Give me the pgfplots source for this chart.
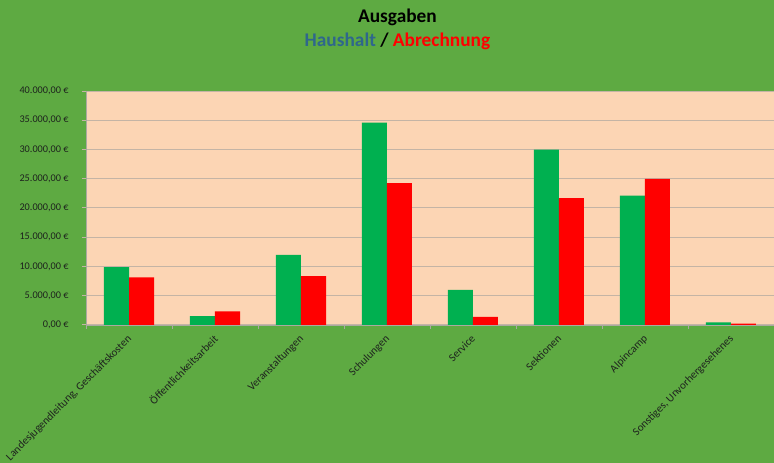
\documentclass[border=0pt]{standalone}
\usepackage{fontspec}
\setmainfont{Carlito}
\usepackage{pgfplots}
\pgfplotsset{compat=1.18}
\definecolor{bggreen}{RGB}{94,170,66}
\definecolor{peach}{RGB}{252,213,180}
\definecolor{bargreen}{RGB}{0,176,80}
\definecolor{barred}{RGB}{255,0,0}
\definecolor{gridc}{RGB}{196,180,165}
\definecolor{axc}{RGB}{170,170,160}
\definecolor{hblue}{RGB}{47,103,140}
\definecolor{labelc}{RGB}{30,35,30}
\begin{document}
\begin{tikzpicture}
\fill[bggreen] (0,0) rectangle (580.5pt,347.25pt);
\begin{axis}[
  at={(64.5pt,103.5pt)}, anchor=south west,
  scale only axis, width=516pt, height=175.5pt,
  ybar=0pt, bar width=18.75pt,
  xmin=-0.5, xmax=7.5, ymin=0, ymax=40000,
  axis background/.style={fill=peach},
  axis x line*=bottom, axis y line*=left,
  axis line style={axc, line width=0.6pt, -},
  xtick={0,...,7},
  xticklabels={{Landesjugendleitung, Geschäftskosten},{Öffentlichkeitsarbeit},{Veranstaltungen},{Schulungen},{Service},{Sektionen},{Alpincamp},{Sonstiges, Unvorhergesehenes}},
  minor xtick={-0.5,0.5,...,7.5},
  major x tick style={draw=none},
  minor x tick style={axc, line width=0.6pt},
  minor tick length=3pt,
  tick align=outside,
  major tick length=3pt,
  ytick={0,5000,...,40000},
  yticklabels={{0,00 €},{5.000,00 €},{10.000,00 €},{15.000,00 €},{20.000,00 €},{25.000,00 €},{30.000,00 €},{35.000,00 €},{40.000,00 €}},
  scaled y ticks=false,
  y tick style={gridc, line width=0.75pt},
  ymajorgrids, grid style={gridc, line width=0.75pt},
  ticklabel style={text=labelc},
  yticklabel style={font=\fontsize{7.7}{9}\selectfont, xshift=-6.5pt},
  xticklabel style={font=\fontsize{8.3}{10}\selectfont, xshift=-4pt, rotate=45, anchor=north east, inner sep=1pt, yshift=-3pt},
  every axis plot/.append style={draw=none},
]
\addplot[fill=bargreen] coordinates {(0,9900) (1,1500) (2,12000) (3,34600) (4,6000) (5,30000) (6,22100) (7,450)};
\addplot[fill=barred] coordinates {(0,8150) (1,2350) (2,8350) (3,24250) (4,1400) (5,21700) (6,25000) (7,250)};
\end{axis}
\node[anchor=base, font=\bfseries\fontsize{14.5}{17}\selectfont] at (298.1pt,330.2pt) {Ausgaben};
\node[anchor=base, font=\bfseries\fontsize{14.5}{17}\selectfont] at (298.1pt,312.2pt) {\textcolor{hblue}{Haushalt} / \textcolor{barred}{Abrechnung}};
\pgfresetboundingbox
\useasboundingbox (0,0) rectangle (580.5pt,347.25pt);
\end{tikzpicture}
\end{document}
